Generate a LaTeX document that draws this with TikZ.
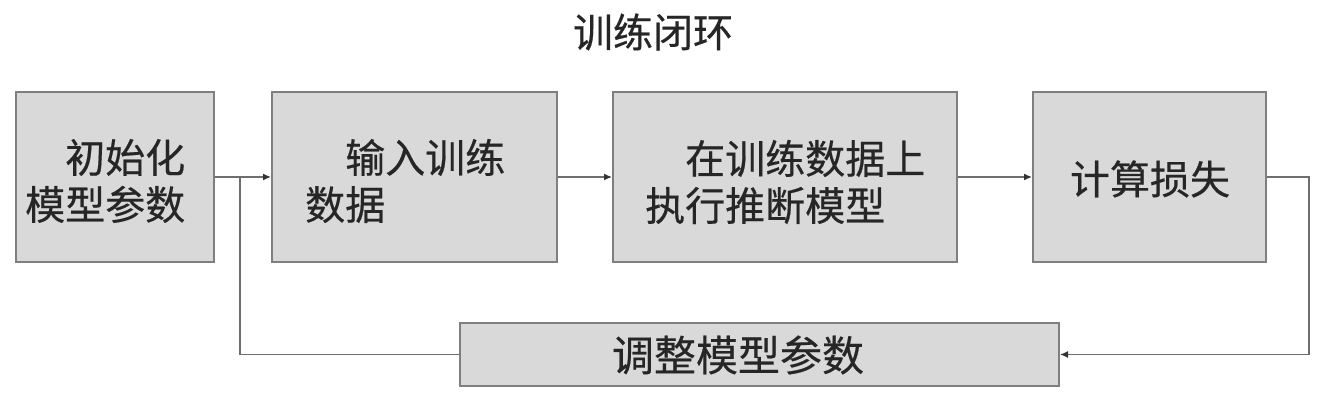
\documentclass[tikz,border=0pt]{standalone}
\usepackage{fontspec}
\newfontfamily\cjk[BoldFont={Noto Sans CJK SC}, BoldFeatures={FakeBold=0.45}]{Noto Sans CJK SC}
\usetikzlibrary{arrows.meta}
\definecolor{boxfill}{HTML}{D9D9D9}
\definecolor{boxline}{HTML}{7F7F7F}
\definecolor{connline}{HTML}{6E6E6E}
\tikzset{
  box/.style={draw=boxline, line width=2pt, fill=boxfill, inner sep=0pt},
  txt/.style={font=\cjk\bfseries\fontsize{40}{47}\selectfont, inner sep=0pt, align=left, text=black!85},
  conn/.style={draw=connline, line width=1.4pt},
  arr/.style={-{Latex[length=8pt,width=7pt,color=black!80]}},
}
\begin{document}
\begin{tikzpicture}[x=1pt,y=-1pt]
\useasboundingbox (0,0) rectangle (1322,406);
% boxes
\node[box, minimum width=198pt, minimum height=170pt] (b1) at (115,177) {};
\node[box, minimum width=285pt, minimum height=170pt] (b2) at (414.5,177) {};
\node[box, minimum width=344pt, minimum height=170pt] (b3) at (785,177) {};
\node[box, minimum width=233pt, minimum height=170pt] (b4) at (1149.5,177) {};
\node[box, minimum width=599pt, minimum height=63pt] (b5) at (759.5,354.5) {};
% texts
\node[txt, anchor=center] (title) at (653,32) {训练闭环};
\node[txt, anchor=west, text width=4em] (t1) at (25,181) {\hspace*{1em}初始化\\模型参数};
\node[txt, anchor=west, text width=5em] (t2) at (305,181) {\hspace*{1em}输入训练\\数据};
\node[txt, anchor=west, text width=7em] (t3) at (645,182) {\hspace*{1em}在训练数据上\\执行推断模型};
\node[txt, anchor=center] (t4) at (1150,179) {计算损失};
\node[txt, anchor=center, font=\cjk\bfseries\fontsize{42}{47}\selectfont] (t5) at (738,355) {调整模型参数};
% connectors
\coordinate (j) at (240,177);
\draw[conn, arr] (b1.east) -- (b2.west);
\draw[conn, arr] (b2.east) -- (b3.west);
\draw[conn, arr] (b3.east) -- (b4.west);
\draw[conn, arr] (b4.east) -- ++(42,0) |- (b5.east);
\draw[conn] (b5.west) -| (j);
\end{tikzpicture}
\end{document}
